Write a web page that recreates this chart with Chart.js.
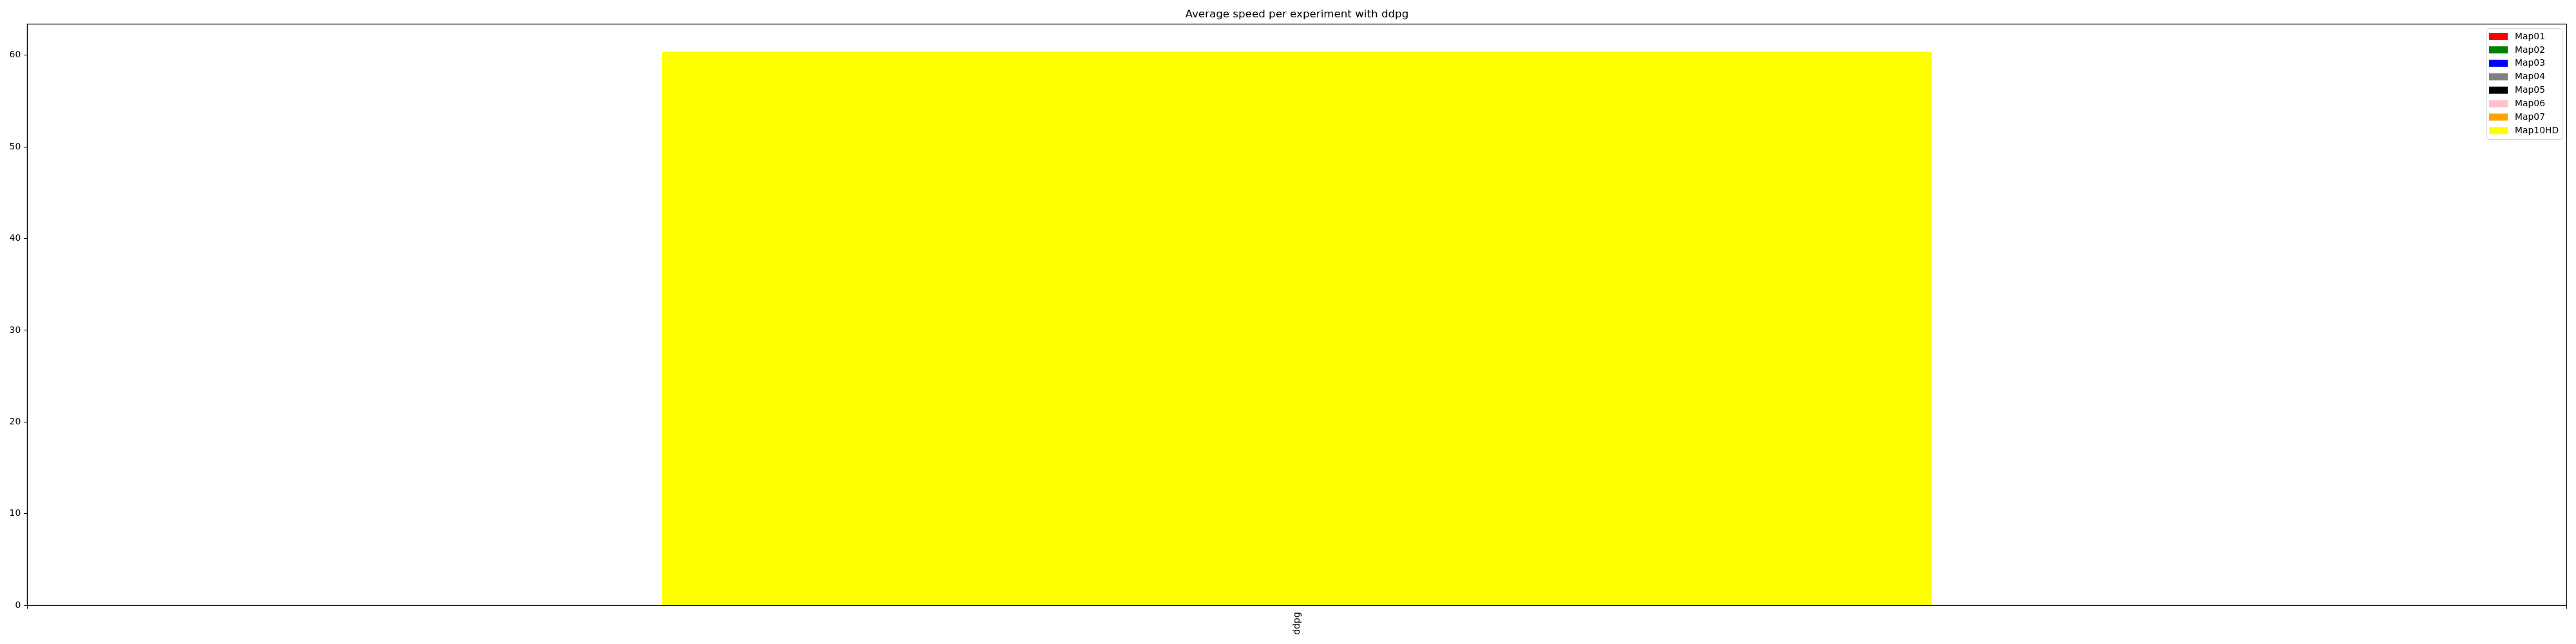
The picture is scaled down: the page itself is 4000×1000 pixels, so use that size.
<!DOCTYPE html>
<html>
<head>
<meta charset="utf-8">
<title>Average speed per experiment with ddpg</title>
<script src="https://cdn.jsdelivr.net/npm/chart.js@4"></script>
<style>
  html, body { margin: 0; padding: 0; background: #fff; }
  #wrap { width: 4000px; height: 1000px; }
</style>
</head>
<body>
<div id="wrap"><canvas id="chart" width="4000" height="1000"></canvas></div>
<script>
// 데이터
const experiments = ["ddpg"];
const mapNames = ["Map01", "Map02", "Map03", "Map04", "Map05", "Map06", "Map07", "Map10HD"];
const mapColors = ["red", "green", "blue", "gray", "black", "pink", "orange", "yellow"];
const mapSpeeds = [0, 0, 0, 0, 0, 0, 0, 60.37];   // ddpg 평균 속도
const yTicksStep = 10;
const yMax = 63.39;

const FONT = "'DejaVu Sans', sans-serif";

// 축 바깥 네 변 테두리
const framePlugin = {
    id: "frame",
    afterDraw(chart) {
        const { ctx, chartArea: a } = chart;
        ctx.save();
        ctx.strokeStyle = "#000";
        ctx.lineWidth = 1.1;
        ctx.strokeRect(a.left, a.top, a.right - a.left, a.bottom - a.top);
        ctx.restore();
    }
};

// 오른쪽 위 범례 (세로 배치)
const boxLegendPlugin = {
    id: "boxLegend",
    afterDraw(chart) {
        const ctx = chart.ctx;
        const sets = chart.data.datasets;
        const x = 3861, y = 44, w = 117, h = 172;
        ctx.save();
        ctx.fillStyle = "rgba(255,255,255,0.8)";
        ctx.strokeStyle = "#d0d0d0";
        ctx.lineWidth = 1;
        ctx.beginPath();
        ctx.roundRect(x + 0.5, y + 0.5, w, h, 3);
        ctx.fill();
        ctx.stroke();

        ctx.font = "13.9px " + FONT;
        ctx.textBaseline = "middle";
        ctx.textAlign = "left";
        sets.forEach((ds, i) => {
            const cy = 56.5 + i * 20.9;
            ctx.fillStyle = ds.backgroundColor;
            ctx.fillRect(3865, cy - 5.5, 29, 11);
            ctx.fillStyle = "#000";
            ctx.fillText(ds.label, 3905, cy + 0.5);
        });
        ctx.restore();
    }
};

new Chart(document.getElementById("chart"), {
    type: "bar",
    data: {
        labels: experiments,
        datasets: mapNames.map((name, i) => ({
            label: name,
            data: [mapSpeeds[i]],
            backgroundColor: mapColors[i],
            borderWidth: 0,
            categoryPercentage: 0.5,
            barPercentage: 1.0
        }))
    },
    options: {
        responsive: false,
        animation: false,
        devicePixelRatio: 1,
        layout: { padding: { left: 0, right: 14.5, top: 0, bottom: 0 } },
        plugins: {
            legend: { display: false },
            tooltip: { enabled: false },
            title: {
                display: true,
                fullSize: false,   // 축 영역 기준 가운데 정렬
                text: "Average speed per experiment with ddpg",
                color: "#000",
                font: { family: FONT, size: 16.7, weight: "normal", lineHeight: 1.2 },
                padding: { top: 13, bottom: 4.3 }
            }
        },
        scales: {
            x: {
                stacked: true,
                offset: true,
                grid: { display: true, drawOnChartArea: false, tickLength: 5, tickColor: "#000", tickWidth: 1.1 },
                border: { display: true, color: "#000", width: 1.1 },
                ticks: {
                    color: "#000",
                    font: { family: FONT, size: 13.9 },
                    minRotation: 90,
                    maxRotation: 90,
                    padding: 5
                },
                afterFit(scale) { scale.height = 59.7; }
            },
            y: {
                stacked: true,
                min: 0,
                max: yMax,
                grid: { display: true, drawOnChartArea: false, tickLength: 5, tickColor: "#000", tickWidth: 1.1 },
                border: { display: true, color: "#000", width: 1.1 },
                ticks: {
                    stepSize: yTicksStep,
                    includeBounds: false,
                    color: "#000",
                    font: { family: FONT, size: 13.9 },
                    padding: 5
                },
                afterFit(scale) { scale.width = 42.3; }
            }
        }
    },
    plugins: [framePlugin, boxLegendPlugin]
});
</script>
</body>
</html>
